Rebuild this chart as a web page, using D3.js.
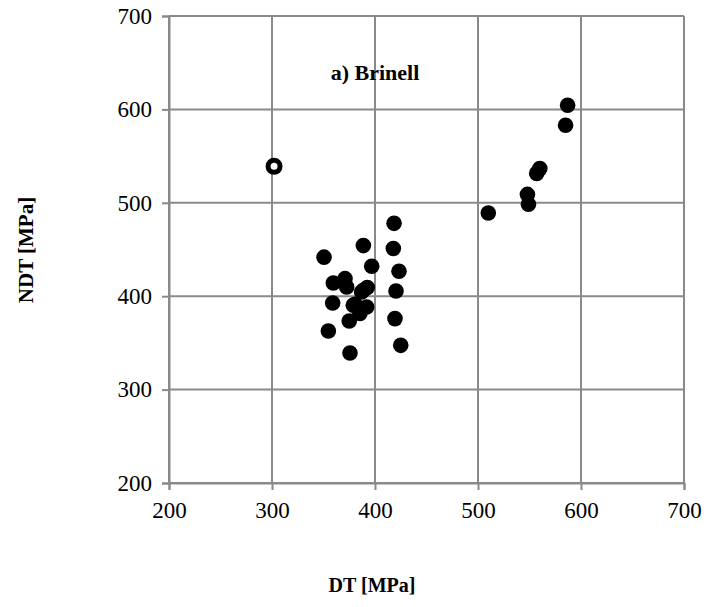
<!DOCTYPE html>
<html><head><meta charset="utf-8">
<script src="https://cdn.jsdelivr.net/npm/d3@7"></script>
<style>body{margin:0;background:#fff}svg{display:block}</style>
</head><body>
<script>
const xTicks = [200, 300, 400, 500, 600, 700];
const yTicks = [200, 300, 400, 500, 600, 700];
const dtValues = [388.7, 350.5, 396.8, 417.8, 418.5, 423.3, 420.4, 419.4, 425, 359.5, 370.9, 372.5, 388.7, 387, 392.5, 358.9, 380.6, 391.9, 378.9, 385.4, 375, 354.7, 375.7, 510, 548, 549, 557, 560, 585, 587];
const ndtValues = [454.2, 441.8, 432, 451, 478, 426.7, 405.6, 376, 347.4, 414.1, 418.8, 409.9, 406.3, 404.5, 409.2, 392.7, 391.3, 388.4, 390.2, 381.4, 373.4, 362.7, 339.2, 489, 509, 498.5, 531.5, 536.6, 583, 604.4];
const outlierDT = [302];
const outlierNDT = [539];
const titleText = "a) Brinell";
const xLabel = "DT [MPa]";
const yLabel = "NDT [MPa]";

const W = 709, H = 607;
const m = {left: 169, right: 709 - 684, top: 16, bottom: 607 - 483};
const svg = d3.select("body").append("svg").attr("width", W).attr("height", H);
const x = d3.scaleLinear().domain([200, 700]).range([m.left, W - m.right]);
const y = d3.scaleLinear().domain([200, 700]).range([H - m.bottom, m.top]);
const gridColor = "#8a8a8a";
const font = "'Liberation Serif','Times New Roman',serif";

// gridlines
svg.append("g").selectAll("line").data(xTicks).join("line")
  .attr("x1", d => x(d)).attr("x2", d => x(d)).attr("y1", y(700)).attr("y2", y(200))
  .attr("stroke", gridColor).attr("stroke-width", 2);
svg.append("g").selectAll("line").data(yTicks).join("line")
  .attr("y1", d => y(d)).attr("y2", d => y(d)).attr("x1", x(200)).attr("x2", x(700))
  .attr("stroke", gridColor).attr("stroke-width", 2);

// axes
const xAxis = svg.append("g").attr("transform", `translate(0,${y(200)})`)
  .call(d3.axisBottom(x).tickValues(xTicks).tickSize(7).tickPadding(12).tickFormat(d3.format("d")));
const yAxis = svg.append("g").attr("transform", `translate(${x(200)},0)`)
  .call(d3.axisLeft(y).tickValues(yTicks).tickSize(7).tickPadding(10).tickFormat(d3.format("d")));
[xAxis, yAxis].forEach(a => {
  a.select(".domain").attr("stroke", gridColor).attr("stroke-width", 2);
  a.selectAll(".tick line").attr("stroke", gridColor).attr("stroke-width", 2);
  a.selectAll(".tick text").attr("fill", "#000").style("font-family", font).style("font-size", "23px");
});

// points
svg.append("g").selectAll("circle").data(dtValues.map((d, i) => [d, ndtValues[i]])).join("circle")
  .attr("cx", d => x(d[0])).attr("cy", d => y(d[1])).attr("r", 7.8).attr("fill", "#000");
svg.append("g").selectAll("circle").data(outlierDT.map((d, i) => [d, outlierNDT[i]])).join("circle")
  .attr("cx", d => x(d[0])).attr("cy", d => y(d[1])).attr("r", 6)
  .attr("fill", "#fff").attr("stroke", "#000").attr("stroke-width", 5);

// texts
svg.append("text").attr("x", 375).attr("y", 80).attr("text-anchor", "middle")
  .style("font-family", font).style("font-size", "22px").style("font-weight", "bold").text(titleText);
svg.append("text").attr("x", 372).attr("y", 592).attr("text-anchor", "middle")
  .style("font-family", font).style("font-size", "20px").style("font-weight", "bold").text(xLabel);
svg.append("text").attr("transform", "translate(33,250) rotate(-90)").attr("text-anchor", "middle")
  .style("font-family", font).style("font-size", "21px").style("font-weight", "bold").text(yLabel);
</script>
</body></html>
